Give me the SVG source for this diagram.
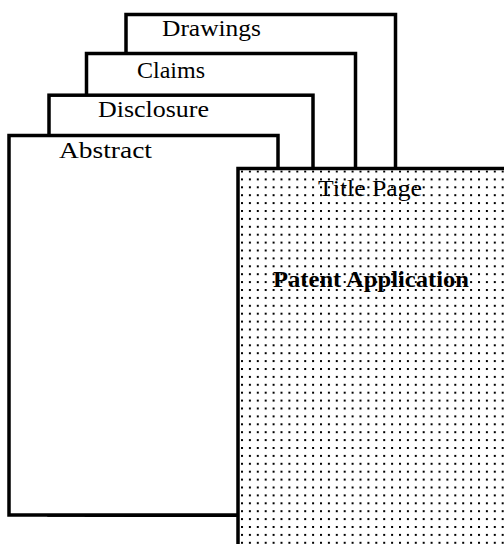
<svg xmlns="http://www.w3.org/2000/svg" width="504" height="544" viewBox="0 0 504 544">
  <style>
    .sheet { fill: #ffffff; stroke: #000000; stroke-width: 3.5; }
    .label { font-family: "Liberation Serif", "DejaVu Serif", serif; font-size: 24px; fill: #000000; }
    .bold { font-weight: bold; }
  </style>
  <defs>
    <pattern id="dots" patternUnits="userSpaceOnUse" x="241" y="170.5" width="7.9" height="7.9">
      <rect x="0" y="0" width="2" height="2" fill="#000000"/>
    </pattern>
  </defs>
  <rect width="504" height="544" fill="#ffffff"/>

  <!-- stacked sheets, back to front -->
  <g id="drawings">
    <rect class="sheet" x="126" y="14.5" width="269.5" height="500.5"/>
    <text class="label" x="162" y="36" textLength="99" lengthAdjust="spacingAndGlyphs">Drawings</text>
  </g>
  <g id="claims">
    <rect class="sheet" x="86.5" y="53.5" width="269" height="461.5"/>
    <text class="label" x="137" y="77.7" textLength="68" lengthAdjust="spacingAndGlyphs">Claims</text>
  </g>
  <g id="disclosure">
    <rect class="sheet" x="49" y="95.2" width="264" height="419.8"/>
    <text class="label" x="98" y="117.3" textLength="111" lengthAdjust="spacingAndGlyphs">Disclosure</text>
  </g>
  <g id="abstract">
    <rect class="sheet" x="9" y="135.5" width="269" height="379.5"/>
    <text class="label" x="59" y="158.3" textLength="93" lengthAdjust="spacingAndGlyphs">Abstract</text>
  </g>

  <!-- front sheet: dotted title page -->
  <g id="title-page">
    <rect class="sheet" x="238" y="168.5" width="280" height="390"/>
    <rect x="240" y="170.3" width="264" height="373.7" fill="url(#dots)"/>
    <text class="label" x="318" y="196" textLength="104" lengthAdjust="spacingAndGlyphs">Title Page</text>
    <text class="label bold" x="273" y="287" textLength="196" lengthAdjust="spacingAndGlyphs">Patent Application</text>
  </g>

  <g id="connectors"/>
</svg>
